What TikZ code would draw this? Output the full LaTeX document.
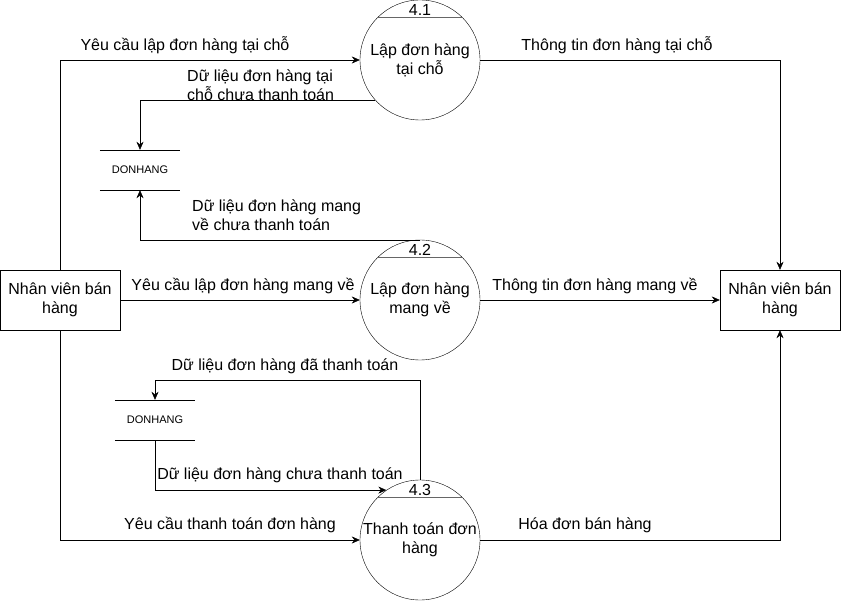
\documentclass[tikz,border=0pt]{standalone}
\usepackage{fontspec}
\setmainfont{Liberation Sans}
\usetikzlibrary{arrows.meta,positioning}

\tikzset{
  process/.style={draw,circle,minimum size=120pt,inner sep=0pt,align=center,
    font=\fontsize{16}{19}\selectfont},
  entity/.style={draw,minimum width=120pt,minimum height=60pt,inner sep=0pt,
    align=center,font=\fontsize{16}{19}\selectfont},
  store/.style={minimum width=80pt,minimum height=40pt,inner sep=0pt,
    font=\fontsize{11}{13}\selectfont},
  flow/.style={-{Stealth[length=8pt,width=7pt]}},
  header/.style={draw=black!60,line width=1.2pt},
  lbl/.style={inner sep=0pt,align=left,font=\fontsize{16}{19}\selectfont},
}

\begin{document}
\begin{tikzpicture}[x=1pt,y=-1pt]
  \useasboundingbox (0,0) rectangle (841,601);

  % Draw the external entities
  \node[entity] (nvA) at (60,300) {Nhân viên bán\\hàng};
  \node[entity] (nvB) at (780,300) {Nhân viên bán\\hàng};

  % Draw the processes
  \node[process] (p41) at (420,60) {Lập đơn hàng\\tại chỗ};
  \node[process] (p42) at (420,300) {Lập đơn hàng\\mang về};
  \node[process] (p43) at (420,540) {Thanh toán đơn\\hàng};
  \foreach \p/\n in {p41/4.1,p42/4.2,p43/4.3} {
    \draw[header] (\p.135) -- (\p.45);
    \node[lbl] (\p num) at ([yshift=-10pt]\p.north) {\n};
  }

  % Draw the data stores
  \node[store] (ds1) at (140,170) {DONHANG};
  \node[store] (ds2) at (155,420) {DONHANG};
  \foreach \s in {ds1,ds2} {
    \draw (\s.north west) -- (\s.north east);
    \draw (\s.south west) -- (\s.south east);
  }

  % Draw the data flows
  \draw[flow] (nvA.north) |- (p41.west);
  \draw[flow] (p41.222) -| (ds1.north);
  \draw[flow] (p41.east) -| (nvB.north);
  \draw[flow] (p42.north) -| (ds1.south);
  \draw[flow] (nvA.east) -- (p42.west);
  \draw[flow] (p42.east) -- (nvB.west);
  \draw[flow] (p43.north) -- ++(0,-100) -| (ds2.north);
  \draw[flow] (ds2.south) |- (p43.124);
  \draw[flow] (nvA.south) |- (p43.west);
  \draw[flow] (p43.east) -| (nvB.south);

  % Flow labels
  \node[lbl] (l1) at (185,45) {Yêu cầu lập đơn hàng tại chỗ};
  \node[lbl,anchor=west] (l2) at (187,85) {Dữ liệu đơn hàng tại\\chỗ chưa thanh toán};
  \node[lbl] (l3) at (617,45) {Thông tin đơn hàng tại chỗ};
  \node[lbl,anchor=west] (l4) at (192,215) {Dữ liệu đơn hàng mang\\về chưa thanh toán};
  \node[lbl] (l5) at (243,286) {Yêu cầu lập đơn hàng mang về};
  \node[lbl] (l6) at (595,286) {Thông tin đơn hàng mang về};
  \node[lbl] (l7) at (285,366) {Dữ liệu đơn hàng đã thanh toán};
  \node[lbl] (l8) at (280,475) {Dữ liệu đơn hàng chưa thanh toán};
  \node[lbl] (l9) at (230,525) {Yêu cầu thanh toán đơn hàng};
  \node[lbl] (l10) at (585,525) {Hóa đơn bán hàng};
\end{tikzpicture}
\end{document}
